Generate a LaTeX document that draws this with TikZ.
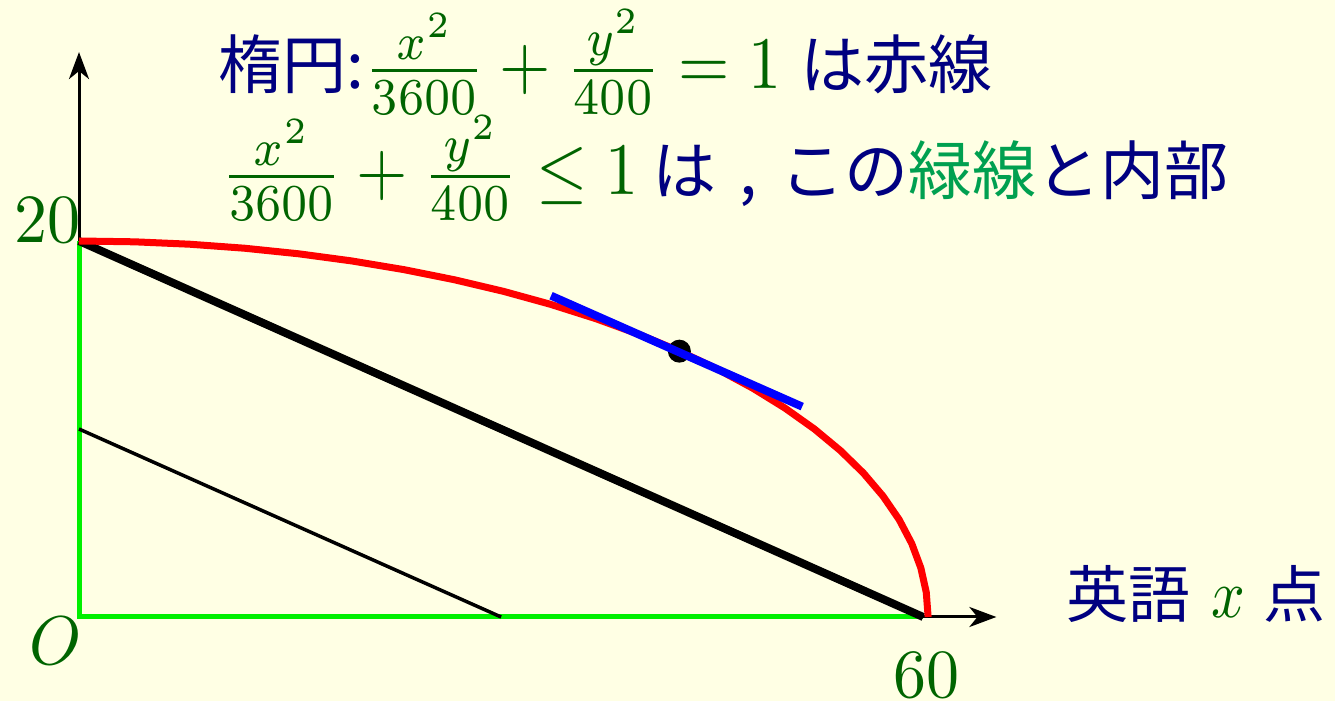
\RequirePackage{fix-cm}
\documentclass[tikz,border=0pt]{standalone}
\usepackage{fontspec}
\usepackage{graphicx}
\newfontfamily\jp{Noto Sans CJK JP}
\usetikzlibrary{arrows.meta}
\definecolor{bg}{RGB}{255,255,228}
\definecolor{navy}{RGB}{0,0,128}
\definecolor{dgreen}{RGB}{0,100,0}
\definecolor{lgreen}{RGB}{0,160,80}
\definecolor{lime}{RGB}{0,240,0}
\definecolor{pblue}{RGB}{0,0,255}
% math set at 10pt and stretched as in the reference
\newcommand{\Mt}[1]{\scalebox{6.6}[7.4]{$\color{dgreen}#1$}}
\newcommand{\Ml}[1]{\scalebox{6.6}[6.9]{$\color{dgreen}#1$}}
\newcommand{\Mx}[1]{\scalebox{5.9}[6.9]{$\color{dgreen}#1$}}
\newcommand{\Jt}[1]{{\fontsize{64}{64}\selectfont\jp #1}}
\newcommand{\Jx}[1]{{\fontsize{62}{62}\selectfont\jp #1}}
\begin{document}
\begin{tikzpicture}[x=1pt,y=1pt,
  txt/.style={inner sep=0pt, text=navy},
  numlab/.style={inner sep=0pt},
  axisline/.style={black, line width=3pt, -{Stealth[length=27pt,width=20pt,inset=8pt]}},
  region/.style={lime, line width=5pt},
  chord/.style={black, line width=8pt},
  thinline/.style={black, line width=3.5pt},
  ell/.style={red, line width=7pt, line join=round},
  tangent/.style={pblue, line width=8pt},
  dotstyle/.style={circle, fill=black, inner sep=0pt, minimum size=23pt}]
\fill[bg] (0,0) rectangle (1335,701);
\useasboundingbox (0,0) rectangle (1335,701);

\begin{scope}[shift={(79,84)}, x=14.07pt, y=18.8pt]
  \coordinate (O) at (0,0);
  \coordinate (A) at (0,20);
  \coordinate (B) at (60,0);
  \coordinate (C) at (0,10);
  \coordinate (D) at (30,0);
  \coordinate (Ytip) at (0,30.05);
  \coordinate (Xtip) at (65.2,0);
  \coordinate (P) at (42.67,14.14);
  \coordinate (T1) at (33.55,17.09);
  \coordinate (T2) at (51.4,11.19);
  \draw[axisline] (O) -- (Ytip);
  \draw[axisline] (O) -- (Xtip);
  \draw[region] (A) -- (O) -- (B);
  \draw[thinline] (C) -- (D);
  \draw[chord] (A) -- (B);
  \draw[ell] plot[domain=0:90, samples=25] ({60.35*cos(\x)},{20*sin(\x)});
  \node[dotstyle] (dot) at (P) {};
  \draw[tangent] (T1) -- (T2);
\end{scope}

\node[txt, anchor=base west] (t1) at (218,612)
  {\Jt{楕円:}\Mt{\frac{x^2}{3600}+\frac{y^2}{400}=1}\hspace{19pt}\Jt{は赤線}};
\node[txt, anchor=base west] (t2) at (221,506)
  {\Mt{\frac{x^2}{3600}+\frac{y^2}{400}\le 1}\hspace{14pt}\Jt{は\makebox[64pt][c]{,}この{\color{lgreen}緑線}と内部}};
\node[txt, anchor=base west] (xl) at (1066,83)
  {\Jx{英語}\hspace{21pt}\Mx{x}\hspace{19pt}\Jx{点}};
\node[numlab, anchor=base east] (l20) at (81,458) {\Ml{20}};
\node[numlab, anchor=base] (l60) at (926,4) {\Ml{60}};
\node[numlab, anchor=base west] (lO) at (29,36) {\Ml{O}};
\end{tikzpicture}
\end{document}
